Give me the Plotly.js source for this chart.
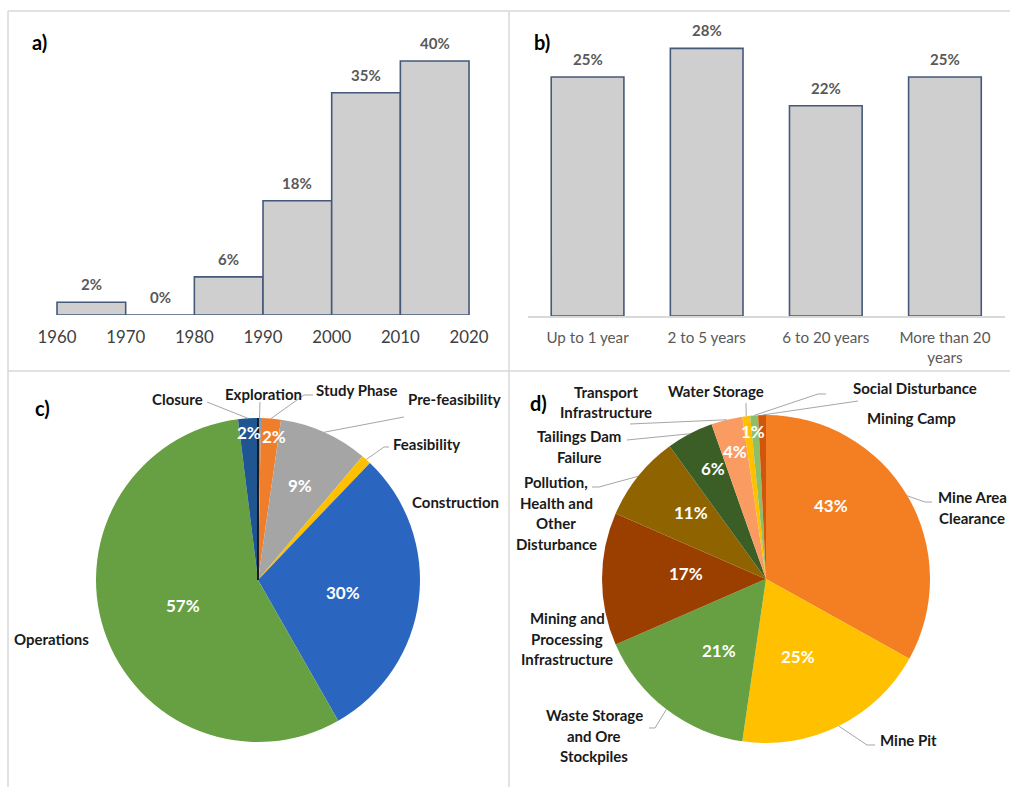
<!DOCTYPE html>
<html>
<head>
<meta charset="utf-8">
<script src="https://cdn.plot.ly/plotly-3.0.1.min.js"></script>
<style>html,body{margin:0;padding:0;background:#fff;}#chart{width:1010px;height:787px;}</style>
</head>
<body>
<div id="chart"></div>
<script>
// ---------------- DATA ----------------
// a) share of projects by decade
const decadeEdges = [1960, 1970, 1980, 1990, 2000, 2010, 2020];
const decadeStarts = [1960, 1970, 1980, 1990, 2000, 2010];
const decadeShares = [2, 0, 6, 18, 35, 40];

// b) duration
const durationCats = ['Up to 1 year', '2 to 5 years', '6 to 20 years', 'More than 20 years'];
const durationTickLabels = ['Up to 1 year', '2 to 5 years', '6 to 20 years', 'More than 20<br>years'];
const durationShares = [25, 28, 22, 25];

// c) project phase
const phaseLabels = ['Exploration', 'Study Phase', 'Pre-feasibility', 'Feasibility', 'Construction', 'Operations', 'Closure'];
const phaseValues = [0.3, 2, 9, 1, 30, 57, 2];
const phaseShown = [false, true, true, false, true, true, true];

// d) impact source
const impactLabels = ['Mine Area Clearance', 'Mine Pit', 'Waste Storage and Ore Stockpiles', 'Mining and Processing Infrastructure',
  'Pollution, Health and Other Disturbance', 'Tailings Dam Failure', 'Transport Infrastructure', 'Water Storage',
  'Social Disturbance', 'Mining Camp'];
const impactValues = [43, 25, 21, 17, 11, 6, 4, 1, 1, 1];
const impactShown = [true, true, true, true, true, true, true, true, false, false];

// ---------------- STYLE / LAYOUT HELPERS ----------------
const W = 1010, H = 787;
const X = v => v / W;
const Y = v => 1 - v / H;
const FONT = 'Lato, "Open Sans", sans-serif';

const phaseColors = ['#5B9BD5', '#F07D2A', '#A5A5A5', '#FFC000', '#2A66BF', '#67A042', '#1F5692'];
const impactColors = ['#F47F22', '#FFC000', '#67A042', '#9A3F00', '#8F6400', '#3A5E26', '#FA9C62', '#FFC000', '#8DBE68', '#D0560C'];

const pieC = {cx: 258, cy: 580, r: 162};
const pieD = {cx: 766, cy: 579, r: 164};

function sliceMids(values) {
  const tot = values.reduce((a, b) => a + b, 0);
  let cum = 0;
  return values.map(v => { const m = (cum + v / 2) / tot * 360; cum += v; return m; });
}
function sliceEdges(values) {
  const tot = values.reduce((a, b) => a + b, 0);
  let cum = 0; const e = [0];
  values.forEach(v => { cum += v; e.push(cum / tot * 360); });
  return e;
}
function polar(p, ang, frac) {
  const a = ang * Math.PI / 180;
  return [p.cx + frac * p.r * Math.sin(a), p.cy - frac * p.r * Math.cos(a)];
}

// percent label placement (angle offset from slice middle, radius fraction)
const pctPlaceC = {'Study Phase': [1.7, 0.89], 'Pre-feasibility': [0, 0.64], 'Construction': [1.5, 0.53], 'Operations': [0, 0.49], 'Closure': [0, 0.91]};
const pctPlaceD = {'Mine Area Clearance': [-18, 0.60], 'Mine Pit': [4, 0.51], 'Waste Storage and Ore Stockpiles': [-4, 0.52],
  'Mining and Processing Infrastructure': [3.6, 0.49], 'Pollution, Health and Other Disturbance': [3, 0.61],
  'Tailings Dam Failure': [2, 0.75], 'Transport Infrastructure': [0, 0.80], 'Water Storage': [2, 0.90]};

// outside label text placement: [x, firstLineY, xanchor, lines]
const outC = {
  'Closure': [205, 399, 'right', ['Closure']],
  'Exploration': [263, 394, 'center', ['Exploration']],
  'Study Phase': [314, 390, 'left', ['Study Phase']],
  'Pre-feasibility': [406, 399, 'left', ['Pre-feasibility']],
  'Feasibility': [391, 444, 'left', ['Feasibility']],
  'Construction': [410, 502, 'left', ['Construction']],
  'Operations': [12, 639, 'left', ['Operations']]
};
const outD = {
  'Transport Infrastructure': [606, 392, 'center', ['Transport', 'Infrastructure']],
  'Water Storage': [716, 391, 'center', ['Water Storage']],
  'Social Disturbance': [851, 388, 'left', ['Social Disturbance']],
  'Mining Camp': [865, 418, 'left', ['Mining Camp']],
  'Tailings Dam Failure': [579, 436, 'center', ['Tailings Dam', 'Failure']],
  'Pollution, Health and Other Disturbance': [556, 482, 'center', ['Pollution,', 'Health and', 'Other', 'Disturbance']],
  'Mine Area Clearance': [972, 497, 'center', ['Mine Area', 'Clearance']],
  'Mining and Processing Infrastructure': [567, 618, 'center', ['Mining and', 'Processing', 'Infrastructure']],
  'Waste Storage and Ore Stockpiles': [594, 715, 'center', ['Waste Storage', 'and Ore', 'Stockpiles']],
  'Mine Pit': [878, 740, 'left', ['Mine Pit']]
};
// leader line start points (label side), end goes to the slice edge
const leadC = {
  'Closure': [[207, 402]],
  'Exploration': [[260, 402]],
  'Study Phase': [[313, 395], [304, 395]],
  'Pre-feasibility': [[404, 417]],
  'Feasibility': [[389, 447], [384, 447]]
};
const leadD = {
  'Transport Infrastructure': [[630, 424]],
  'Tailings Dam Failure': [[627, 440]],
  'Pollution, Health and Other Disturbance': [[592, 487], [599, 487]],
  'Waste Storage and Ore Stockpiles': [[649, 728], [655, 728]],
  'Mine Pit': [[875, 745], [867, 745]],
  'Mine Area Clearance': [[932, 502], [925, 502]],
  'Water Storage': [[746, 403]],
  'Social Disturbance': [[826, 394], [818, 394]],
  'Mining Camp': [[858, 401]]
};

const LINE_SPACING = 20.5;
const annotations = [];
const shapes = [];

// panel borders
const border = '#D9D9D9';
[[8, 11, 1010, 11], [8, 371, 1010, 371], [8, 11, 8, 787], [509, 11, 509, 787]].forEach(s => {
  shapes.push({type: 'line', xref: 'paper', yref: 'paper', x0: X(s[0]), y0: Y(s[1]), x1: X(s[2]), y1: Y(s[3]),
    line: {color: border, width: 1.5}, layer: 'below'});
});

// panel letters
[['a)', 30, 42], ['b)', 532, 42], ['c)', 33, 408], ['d)', 528, 403]].forEach(p => {
  annotations.push({text: p[0], xref: 'paper', yref: 'paper', x: X(p[1]), y: Y(p[2]), xanchor: 'left', yanchor: 'middle',
    showarrow: false, font: {family: FONT, size: 20, color: '#000', weight: 'bold'}});
});

// bar value labels
decadeStarts.forEach((s, i) => {
  annotations.push({text: decadeShares[i] + '%', xref: 'x', yref: 'y', x: s + 5, y: decadeShares[i], yanchor: 'bottom', yshift: 7,
    showarrow: false, font: {family: FONT, size: 15, color: '#595959', weight: 'bold'}});
});
durationCats.forEach((c, i) => {
  annotations.push({text: durationShares[i] + '%', xref: 'x2', yref: 'y2', x: c, y: durationShares[i], yanchor: 'bottom', yshift: 7,
    showarrow: false, font: {family: FONT, size: 15, color: '#595959', weight: 'bold'}});
});

function pieDecor(labels, values, shown, pie, pctPlace, out, lead) {
  const mids = sliceMids(values);
  labels.forEach((lab, i) => {
    if (shown[i] && pctPlace[lab]) {
      const pl = pctPlace[lab];
      const pt = polar(pie, mids[i] + pl[0], pl[1]);
      annotations.push({text: values[i] + '%', xref: 'paper', yref: 'paper', x: X(pt[0]), y: Y(pt[1]), xanchor: 'center', yanchor: 'middle',
        showarrow: false, font: {family: FONT, size: 17, color: '#FFFFFF', weight: 'bold'}});
    }
    const o = out[lab];
    if (o) {
      o[3].forEach((ln, k) => {
        annotations.push({text: ln, xref: 'paper', yref: 'paper', x: X(o[0]), y: Y(o[1] + k * LINE_SPACING), xanchor: o[2], yanchor: 'middle',
          showarrow: false, font: {family: FONT, size: 15, color: '#1A1A1A', weight: 'bold'}});
      });
    }
    const l = lead[lab];
    if (l) {
      const end = polar(pie, mids[i], 1.0);
      const pts = l.concat([end]);
      const path = pts.map((p, k) => (k ? 'L' : 'M') + X(p[0]).toFixed(5) + ',' + Y(p[1]).toFixed(5)).join(' ');
      shapes.push({type: 'path', xref: 'paper', yref: 'paper', path: path, line: {color: '#A6A6A6', width: 1}});
    }
  });
}
pieDecor(phaseLabels, phaseValues, phaseShown, pieC, pctPlaceC, outC, leadC);
pieDecor(impactLabels, impactValues, impactShown, pieD, pctPlaceD, outD, leadD);

// dark separator at the start of pie c
(function () {
  const e = sliceEdges(phaseValues);
  const p = polar(pieC, e[0], 1.0);
  shapes.push({type: 'line', xref: 'paper', yref: 'paper', x0: X(pieC.cx), y0: Y(pieC.cy), x1: X(p[0]), y1: Y(p[1]),
    line: {color: '#111', width: 1.8}});
})();

// ---------------- TRACES ----------------
const barLine = {color: '#46597A', width: 1.6};
const traces = [
  {type: 'bar', x: decadeStarts.map(s => s + 5), y: decadeShares, width: 10, xaxis: 'x', yaxis: 'y',
    marker: {color: '#CFCFCF', line: barLine}, hoverinfo: 'skip'},
  {type: 'bar', x: durationCats, y: durationShares, width: 0.61, xaxis: 'x2', yaxis: 'y2',
    marker: {color: '#CFCFCF', line: barLine}, hoverinfo: 'skip'},
  {type: 'pie', labels: phaseLabels, values: phaseValues, sort: false, direction: 'clockwise', rotation: 0,
    marker: {colors: phaseColors, line: {width: 0}}, textinfo: 'none', hoverinfo: 'skip', showlegend: false,
    domain: {x: [X(pieC.cx - pieC.r), X(pieC.cx + pieC.r)], y: [Y(pieC.cy + pieC.r), Y(pieC.cy - pieC.r)]}},
  {type: 'pie', labels: impactLabels, values: impactValues, sort: false, direction: 'clockwise', rotation: 0,
    marker: {colors: impactColors, line: {width: 0}}, textinfo: 'none', hoverinfo: 'skip', showlegend: false,
    domain: {x: [X(pieD.cx - pieD.r), X(pieD.cx + pieD.r)], y: [Y(pieD.cy + pieD.r), Y(pieD.cy - pieD.r)]}}
];

const layout = {
  width: W, height: H, autosize: false,
  margin: {l: 0, r: 0, t: 0, b: 0, pad: 0},
  paper_bgcolor: '#FFFFFF', plot_bgcolor: 'rgba(0,0,0,0)',
  showlegend: false, bargap: 0,
  xaxis: {domain: [X(20), X(500)], range: [1954.61, 2024.51], tickvals: decadeEdges, ticktext: decadeEdges.map(String),
    ticks: 'outside', ticklen: 7, tickcolor: 'rgba(0,0,0,0)', showgrid: false, zeroline: false, showline: false,
    tickfont: {family: FONT, size: 16.8, color: '#404040'}, fixedrange: true, anchor: 'y'},
  yaxis: {domain: [Y(315), Y(40)], range: [0, 43.31], visible: false, fixedrange: true, anchor: 'x'},
  xaxis2: {domain: [X(528), X(1004.5)], range: [-0.5, 3.5], type: 'category', tickvals: durationCats, ticktext: durationTickLabels,
    ticks: 'outside', ticklen: 7, tickcolor: 'rgba(0,0,0,0)', showgrid: false, zeroline: false,
    showline: true, linecolor: '#D9D9D9', linewidth: 2,
    tickfont: {family: FONT, size: 15.2, color: '#595959'}, fixedrange: true, anchor: 'y2'},
  yaxis2: {domain: [Y(316), Y(30)], range: [0, 29.92], visible: false, fixedrange: true, anchor: 'x2'},
  annotations: annotations,
  shapes: shapes
};

Plotly.newPlot('chart', traces, layout, {staticPlot: true, displayModeBar: false});
</script>
</body>
</html>
